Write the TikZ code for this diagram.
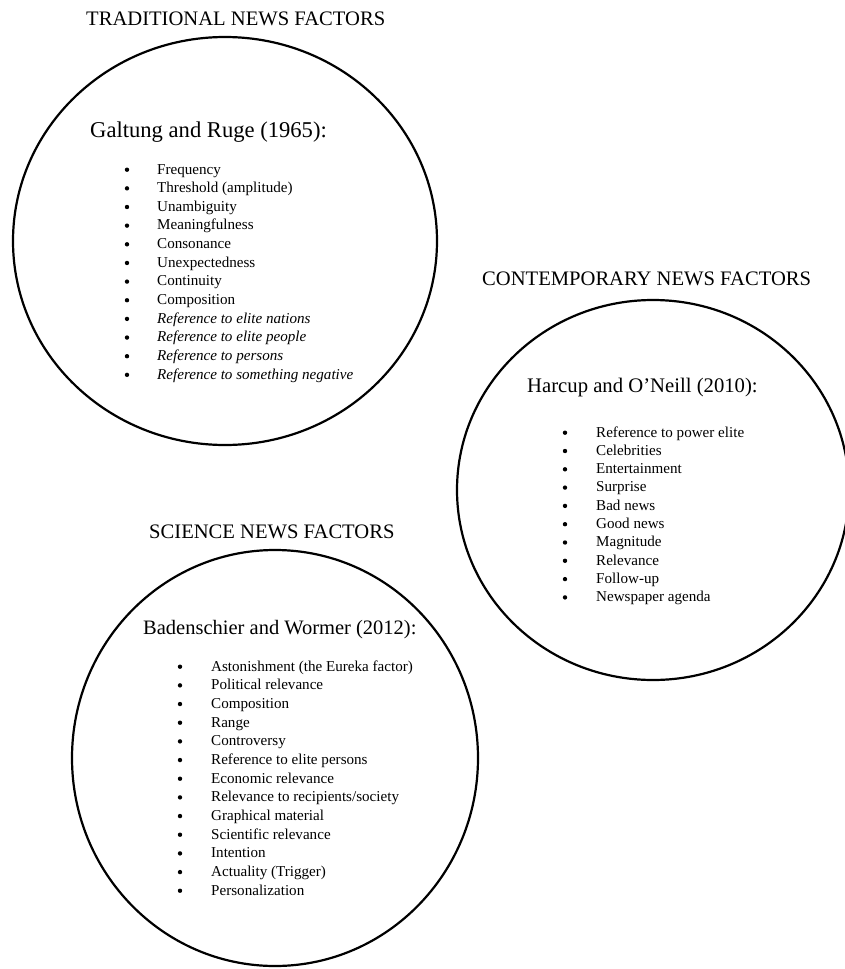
\documentclass[tikz,border=0pt]{standalone}
\usepackage{fontspec}
\setmainfont{Liberation Serif}
\usetikzlibrary{shapes.geometric}
\begin{document}
\begin{tikzpicture}[x=1pt,y=-1pt,
  ring/.style={draw, ellipse, line width=2.2pt, inner sep=0pt},
  heading/.style={anchor=base west, inner sep=0pt, font=\fontsize{20.6}{24}\selectfont},
  item/.style={anchor=base west, inner sep=0pt, font=\fontsize{15.1}{18}\selectfont},
  dot/.style={circle, fill, inner sep=0pt, minimum size=4.4pt}]
\useasboundingbox (0,0) rectangle (845,969);
\fill[white] (0,0) rectangle (845,969);

% --- traditional news factors ---
\node[ring, minimum width=424pt, minimum height=408pt] (trad) at (225,241) {};
\node[heading] (trad-title) at (86,25) {TRADITIONAL NEWS FACTORS};
\node[heading, font=\fontsize{22.6}{26}\selectfont] (trad-src) at (90,137) {Galtung and Ruge (1965):};
\foreach \t [count=\i from 0] in {Frequency, Threshold (amplitude), Unambiguity,
    Meaningfulness, Consonance, Unexpectedness, Continuity, Composition} {
  \node[dot] (trad-dot-\i) at (127, 174+18.65*\i-4.3) {};
  \node[item] (trad-item-\i) at (157, 174+18.65*\i) {\t};
}
\foreach \t [count=\i from 8] in {Reference to elite nations, Reference to elite people,
    Reference to persons, Reference to something negative} {
  \node[dot] (trad-dot-\i) at (127, 174+18.65*\i-4.3) {};
  \node[item] (trad-item-\i) at (157, 174+18.65*\i) {\itshape\t};
}

% --- contemporary news factors ---
\node[ring, minimum width=392pt, minimum height=380pt] (cont) at (653,490) {};
\node[heading] (cont-title) at (482,285) {CONTEMPORARY NEWS FACTORS};
\node[heading, font=\fontsize{20.7}{24}\selectfont] (cont-src) at (527,392) {Harcup and O’Neill (2010):};
\foreach \t [count=\i from 0] in {Reference to power elite, Celebrities, Entertainment,
    Surprise, Bad news, Good news, Magnitude, Relevance, Follow-up, Newspaper agenda} {
  \node[dot] (cont-dot-\i) at (565, 437+18.3*\i-4.3) {};
  \node[item] (cont-item-\i) at (596, 437+18.3*\i) {\t};
}

% --- science news factors ---
\node[ring, minimum width=406pt, minimum height=416pt] (sci) at (275,758) {};
\node[heading] (sci-title) at (149,538) {SCIENCE NEWS FACTORS};
\node[heading, font=\fontsize{20.5}{24}\selectfont] (sci-src) at (143,634) {Badenschier and Wormer (2012):};
\foreach \t [count=\i from 0] in {Astonishment (the Eureka factor), Political relevance,
    Composition, Range, Controversy, Reference to elite persons, Economic relevance,
    Relevance to recipients/society, Graphical material, Scientific relevance,
    Intention, Actuality (Trigger), Personalization} {
  \node[dot] (sci-dot-\i) at (180, 671+18.67*\i-4.3) {};
  \node[item] (sci-item-\i) at (211, 671+18.67*\i) {\t};
}
\end{tikzpicture}
\end{document}
